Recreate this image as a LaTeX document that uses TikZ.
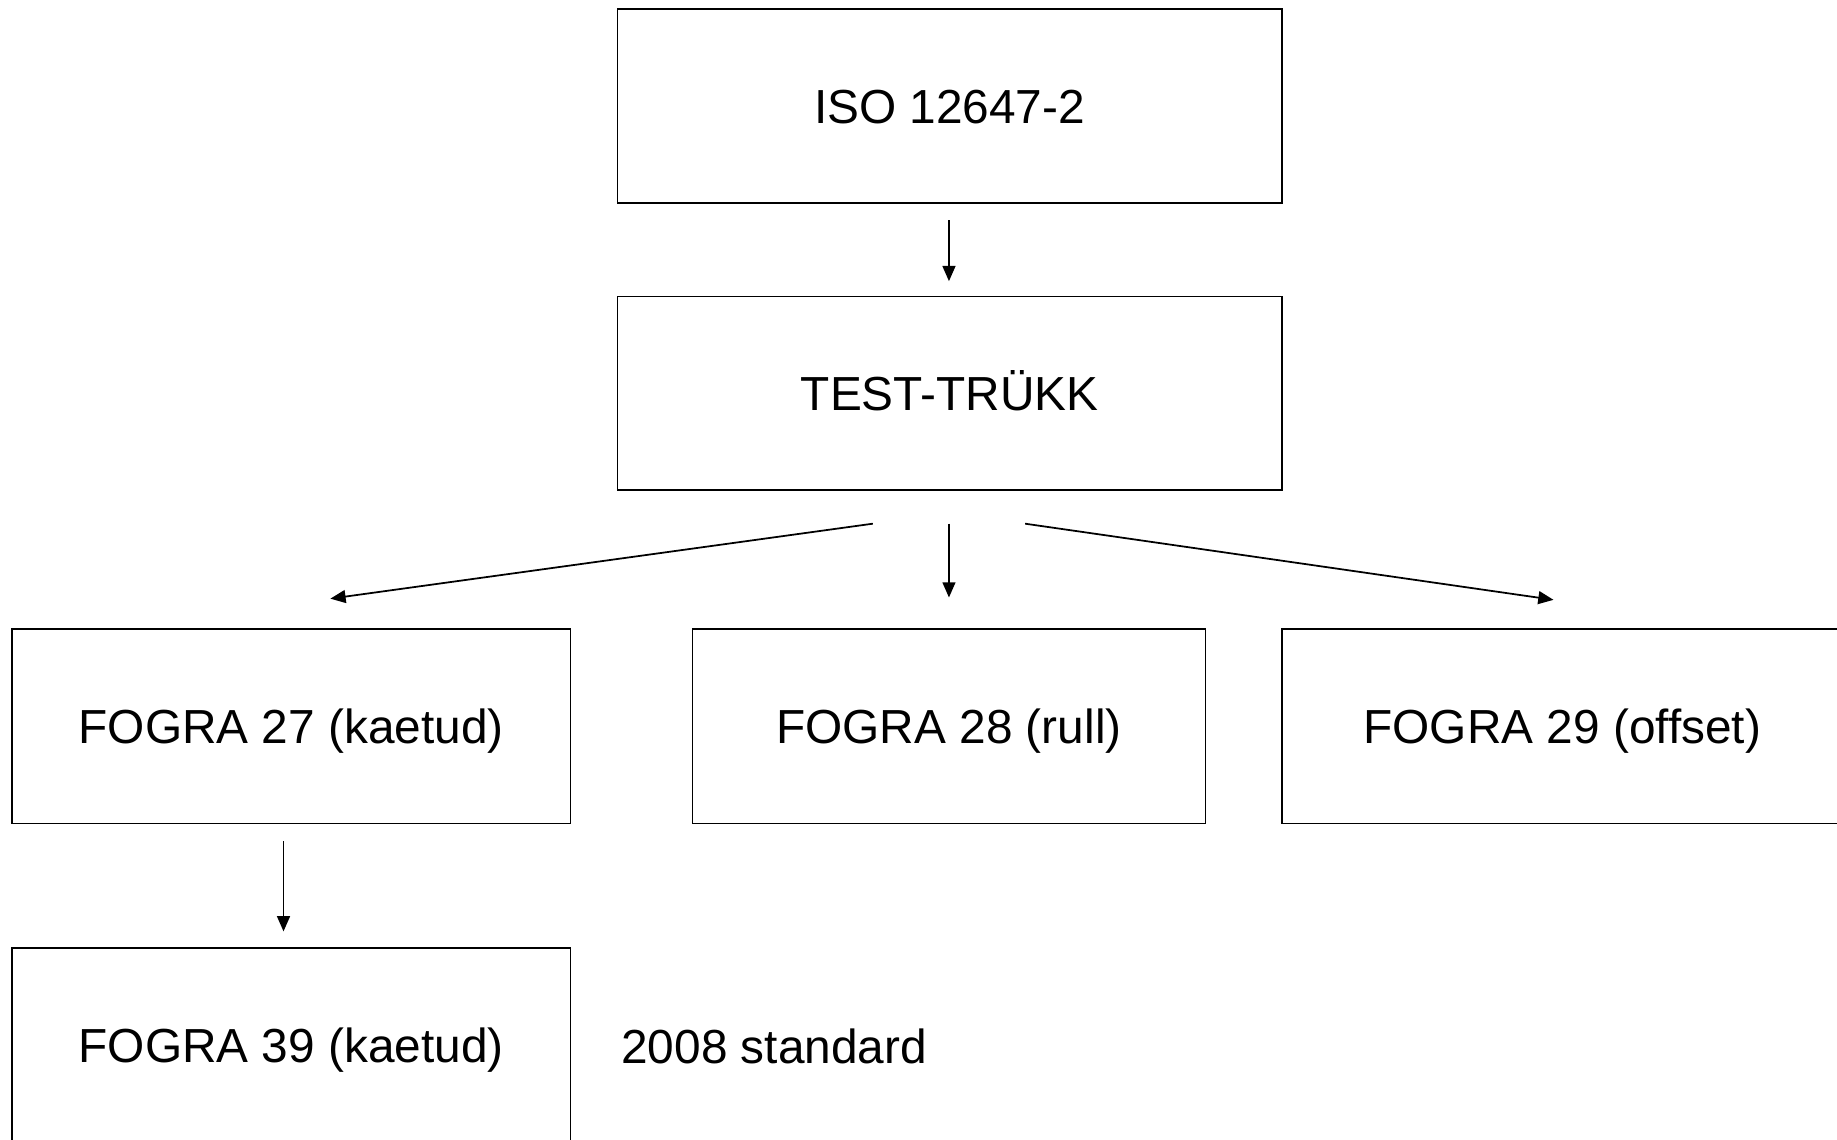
\documentclass[tikz,border=0pt]{standalone}
\usepackage{fontspec}
\setmainfont{Liberation Sans}
\usetikzlibrary{arrows.meta,calc}
\begin{document}
\begin{tikzpicture}[x=0.5pt,y=-0.5pt,
  box/.style={draw=black,line width=0.75pt,inner sep=0pt,minimum height=83pt,text height=14.6pt,text depth=0pt,font=\fontsize{20.4pt}{24pt}\selectfont},
  conn/.style={draw=black,line width=0.75pt,-{Triangle[length=6.5pt,width=5.5pt]}},
  lbl/.style={inner sep=0pt,text height=14.6pt,text depth=0pt,font=\fontsize{20.4pt}{24pt}\selectfont}]
\useasboundingbox (0,0) rectangle (1568,973);
\node[box,minimum width=283.5pt,minimum height=82.5pt] (iso) at (810.5,90.5) {ISO 12647-2};
\node[box,minimum width=283.5pt,minimum height=82.5pt] (test) at (810.5,335.5) {TEST-TRÜKK};
\node[box,minimum width=238.5pt] (f27) at (248.5,620) {FOGRA 27 (kaetud)};
\node[box,minimum width=219pt] (f28) at (810,620) {FOGRA 28 (rull)};
\node[box,minimum width=239pt] (f29) at (1333.5,620) {FOGRA 29 (offset)};
\node[box,minimum width=238.5pt] (f39) at (248.5,892) {FOGRA 39 (kaetud)};
\node[lbl,anchor=west] (std) at (530,893) {2008 standard};
\coordinate (a1s) at (810,188);
\coordinate (a1e) at (810,240);
\coordinate (bls) at (745,447);
\coordinate (ble) at (282,511);
\coordinate (bms) at (810,447);
\coordinate (bme) at (810,510);
\coordinate (brs) at (875,447);
\coordinate (bre) at (1326,512);
\coordinate (cs) at (242,718);
\coordinate (ce) at (242,795);
\draw[conn] (a1s) -- (a1e);
\draw[conn] (bls) -- (ble);
\draw[conn] (bms) -- (bme);
\draw[conn] (brs) -- (bre);
\draw[conn] (cs) -- (ce);
\end{tikzpicture}
\end{document}
